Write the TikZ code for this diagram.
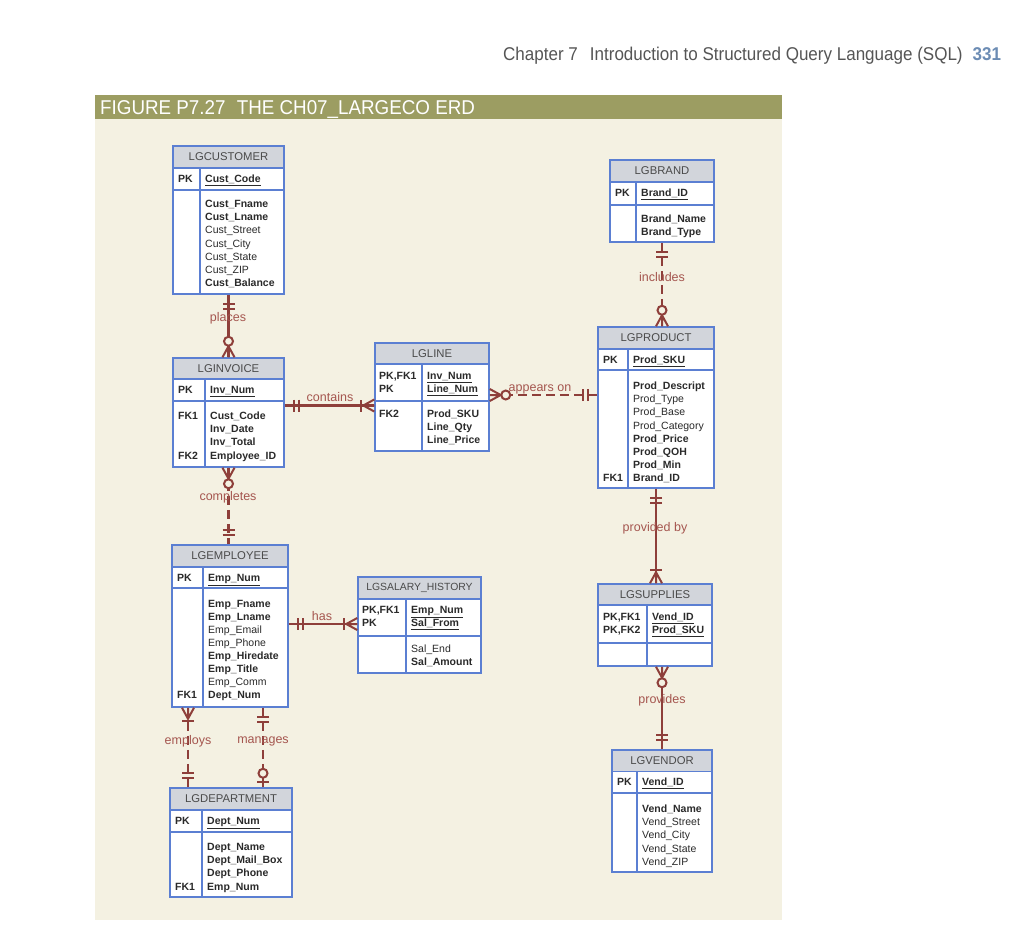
\documentclass[tikz,border=0pt]{standalone}
\usepackage{fontspec}
\setmainfont{Liberation Sans}
\newfontfamily\condfont[FakeStretch=0.92]{Liberation Sans}
\newfontfamily\titlefont[FakeStretch=0.94]{Liberation Sans}
\usetikzlibrary{calc}
\definecolor{bg}{HTML}{F4F1E2}
\definecolor{olive}{HTML}{9C9D62}
\definecolor{entblue}{HTML}{5B7FD2}
\definecolor{hdrgray}{HTML}{D2D5DB}
\definecolor{relc}{HTML}{8E3F3A}
\definecolor{rellab}{HTML}{A5564F}
\definecolor{txt}{HTML}{2A2A2A}
\definecolor{pagenum}{HTML}{6C8CB4}
\tikzset{
 entbox/.style={draw=entblue, line width=1.5pt, inner sep=0pt},
 entline/.style={draw=entblue, line width=1.3pt},
 hdrtxt/.style={font=\fontsize{11.3}{13}\selectfont, text=txt!85, inner sep=0pt},
 atxt/.style={font=\fontsize{10.5}{13}\selectfont, text=txt, inner sep=0pt, anchor=west, text height=7.4pt, text depth=0pt},
 relline/.style={draw=relc, line width=2.4pt},
 reldash/.style={relline, dash pattern=on 9pt off 5pt},
 rlab/.style={font=\fontsize{12.5}{14}\selectfont, text=rellab, inner sep=0pt},
 mk/.style={draw=relc, line width=2pt},
}
% entity: name, x1, y1, x2, y2, header bottom, pk bottom, divider x, title
\newcommand\ent[9]{%
  \fill[hdrgray] (#2,#3) rectangle (#4,#6);
  \fill[white] (#2,#6) rectangle (#4,#5);
  \draw[entline] (#2,#6) -- (#4,#6) (#2,#7) -- (#4,#7) (#8,#6) -- (#8,#5);
  \pgfmathsetmacro\ew{#4-#2}\pgfmathsetmacro\eh{#5-#3}%
  \node[entbox, minimum width=\ew pt, minimum height=\eh pt] (#1) at ({(#2+#4)/2},{(#3+#5)/2}) {};
  \node[hdrtxt] (#1-title) at ({(#2+#4)/2},{(#3+#6)/2}) {#9};
}
\newcommand\rows[4]{\foreach \rt [count=\ri] in {#4}{\node[atxt] (#1-\ri) at (#2,{#3+13.1*(\ri-1)}) {\rt};}}
% end markers: local frame, origin on entity edge, +x outward
\newcommand\zeromany[2]{\begin{scope}[shift={(#1)},rotate=#2]
  \draw[mk] (0,-6) -- (11,0) -- (0,6) (0,0) -- (11,0);
  \draw[mk, fill=bg] (16,0) circle (4.5);\end{scope}}
\newcommand\onemany[2]{\begin{scope}[shift={(#1)},rotate=#2]
  \draw[mk] (0,-6) -- (11,0) -- (0,6) (0,0) -- (11,0);
  \draw[mk] (13,-6) -- (13,6);\end{scope}}
\newcommand\oneone[2]{\begin{scope}[shift={(#1)},rotate=#2]
  \draw[mk] (9,-6) -- (9,6) (14,-6) -- (14,6);\end{scope}}
\newcommand\zeroone[2]{\begin{scope}[shift={(#1)},rotate=#2]
  \draw[mk] (5,-6) -- (5,6);
  \draw[mk, fill=bg] (14,0) circle (4.5);\end{scope}}
\begin{document}
\begin{tikzpicture}[x=1pt,y=-1pt]
\useasboundingbox[fill=white] (0,0) rectangle (1024,936);
% page header
\node[anchor=base west, inner sep=0pt, text=txt!80, font=\condfont\fontsize{18.5}{22}\selectfont] (chap) at (503,61)
  {Chapter 7\hspace{12pt}Introduction to Structured Query Language (SQL)\hspace{10pt}{\bfseries\color{pagenum}331}};
% panel
\fill[bg] (95,95) rectangle (782,920);
\fill[olive] (95,95) rectangle (782,119);
\node[anchor=base west, inner sep=0pt, text=white, font=\titlefont\fontsize{20}{24}\selectfont] (figtitle) at (100,115)
  {FIGURE P7.27\hspace{6pt} THE CH07\_LARGECO ERD};

% entities
\ent{cust}{173}{146}{284}{294}{168}{190}{200}{LGCUSTOMER}
\node[atxt] (cust-pk) at (178,179) {\textbf{PK}};
\node[atxt] (cust-key) at (205,179) {\underline{\textbf{Cust\_Code}}};
\rows{cust}{205}{204}{\textbf{Cust\_Fname},\textbf{Cust\_Lname},Cust\_Street,Cust\_City,Cust\_State,Cust\_ZIP,\textbf{Cust\_Balance}}

\ent{brand}{610}{160}{714}{242}{182}{205}{636}{LGBRAND}
\node[atxt] (brand-pk) at (615,193) {\textbf{PK}};
\node[atxt] (brand-key) at (641,193) {\underline{\textbf{Brand\_ID}}};
\rows{brand}{641}{219}{\textbf{Brand\_Name},\textbf{Brand\_Type}}

\ent{inv}{173}{358}{284}{467}{379}{401}{205}{LGINVOICE}
\node[atxt] (inv-pk) at (178,390) {\textbf{PK}};
\node[atxt] (inv-key) at (210,390) {\underline{\textbf{Inv\_Num}}};
\rows{inv}{210}{416}{\textbf{Cust\_Code},\textbf{Inv\_Date},\textbf{Inv\_Total},\textbf{Employee\_ID}}
\node[atxt] (inv-fk1) at (178,416) {\textbf{FK1}};
\node[atxt] (inv-fk2) at (178,455.3) {\textbf{FK2}};

\ent{lgline}{375}{343}{489}{451}{364}{401}{422}{LGLINE}
\node[atxt] (lgline-pk1) at (379,376) {\textbf{PK,FK1}};
\node[atxt] (lgline-pk2) at (379,389) {\textbf{PK}};
\node[atxt] (lgline-key1) at (427,376) {\underline{\textbf{Inv\_Num}}};
\node[atxt] (lgline-key2) at (427,389) {\underline{\textbf{Line\_Num}}};
\rows{lgline}{427}{414}{\textbf{Prod\_SKU},\textbf{Line\_Qty},\textbf{Line\_Price}}
\node[atxt] (lgline-fk2) at (379,414) {\textbf{FK2}};

\ent{prod}{598}{327}{714}{488}{349}{370}{628}{LGPRODUCT}
\node[atxt] (prod-pk) at (603,359.5) {\textbf{PK}};
\node[atxt] (prod-key) at (633,359.5) {\underline{\textbf{Prod\_SKU}}};
\rows{prod}{633}{386}{\textbf{Prod\_Descript},Prod\_Type,Prod\_Base,Prod\_Category,\textbf{Prod\_Price},\textbf{Prod\_QOH},\textbf{Prod\_Min},\textbf{Brand\_ID}}
\node[atxt] (prod-fk1) at (603,477.7) {\textbf{FK1}};

\ent{emp}{172}{545}{288}{707}{567}{588}{203}{LGEMPLOYEE}
\node[atxt] (emp-pk) at (177,577.5) {\textbf{PK}};
\node[atxt] (emp-key) at (208,577.5) {\underline{\textbf{Emp\_Num}}};
\rows{emp}{208}{603.5}{\textbf{Emp\_Fname},\textbf{Emp\_Lname},Emp\_Email,Emp\_Phone,\textbf{Emp\_Hiredate},\textbf{Emp\_Title},Emp\_Comm,\textbf{Dept\_Num}}
\node[atxt] (emp-fk1) at (177,695.2) {\textbf{FK1}};

\ent{sal}{358}{577}{481}{673}{599}{636}{406}{\fontsize{10.4}{13}\selectfont LGSALARY\_HISTORY}
\node[atxt] (sal-pk1) at (362,610) {\textbf{PK,FK1}};
\node[atxt] (sal-pk2) at (362,623) {\textbf{PK}};
\node[atxt] (sal-key1) at (411,610) {\underline{\textbf{Emp\_Num}}};
\node[atxt] (sal-key2) at (411,623) {\underline{\textbf{Sal\_From}}};
\rows{sal}{411}{648.5}{Sal\_End,\textbf{Sal\_Amount}}

\ent{sup}{598}{584}{712}{666}{605}{643}{647}{LGSUPPLIES}
\node[atxt] (sup-pk1) at (603,617) {\textbf{PK,FK1}};
\node[atxt] (sup-pk2) at (603,630) {\textbf{PK,FK2}};
\node[atxt] (sup-key1) at (652,617) {\underline{\textbf{Vend\_ID}}};
\node[atxt] (sup-key2) at (652,630) {\underline{\textbf{Prod\_SKU}}};

\ent{dept}{170}{788}{292}{897}{810}{832}{202}{LGDEPARTMENT}
\node[atxt] (dept-pk) at (175,821) {\textbf{PK}};
\node[atxt] (dept-key) at (207,821) {\underline{\textbf{Dept\_Num}}};
\rows{dept}{207}{847}{\textbf{Dept\_Name},\textbf{Dept\_Mail\_Box},\textbf{Dept\_Phone},\textbf{Emp\_Num}}
\node[atxt] (dept-fk1) at (175,886.3) {\textbf{FK1}};

\ent{vend}{612}{750}{712}{872}{771.5}{793}{637}{LGVENDOR}
\node[atxt] (vend-pk) at (617,782) {\textbf{PK}};
\node[atxt] (vend-key) at (642,782) {\underline{\textbf{Vend\_ID}}};
\rows{vend}{642}{809}{\textbf{Vend\_Name},Vend\_Street,Vend\_City,Vend\_State,Vend\_ZIP}

% connector end coordinates
\coordinate (ctA) at ([yshift=7pt]inv.east);
\coordinate (apA) at ([yshift=2pt]lgline.east);
\coordinate (hsA) at ([yshift=2pt]emp.east);
\coordinate (emA) at ([xshift=-42pt]emp.south);
\coordinate (mgA) at ([xshift=33pt]emp.south);

% connector lines
\draw[relline] (cust.south) -- (cust.south |- inv.north);
\draw[reldash] (inv.south) -- (inv.south |- emp.north);
\draw[reldash] (brand.south) -- (brand.south |- prod.north);
\draw[relline] (prod.south) -- (prod.south |- sup.north);
\draw[relline] (vend.north) -- (vend.north |- sup.south);
\draw[relline] (ctA) -- (ctA -| lgline.west);
\draw[reldash] (apA) -- (apA -| prod.west);
\draw[relline] (hsA) -- (hsA -| sal.west);
\draw[reldash] (emA) -- (emA |- dept.north);
\draw[reldash] (mgA) -- (mgA |- dept.north);

% labels
\node[rlab] (l-places) at (228,318) {places};
\node[rlab] (l-completes) at (228,497) {completes};
\node[rlab] (l-includes) at (662,277) {includes};
\node[rlab] (l-provby) at (655,528) {provided by};
\node[rlab] (l-provides) at (662,700) {provides};
\node[rlab] (l-contains) at (330,397) {contains};
\node[rlab] (l-appears) at (540,389) {appears on};
\node[rlab] (l-has) at (322,616) {has};
\node[rlab] (l-employs) at (188,741) {employs};
\node[rlab] (l-manages) at (263,741) {manages};

% end markers
\oneone{cust.south}{-90}
\zeromany{cust.south |- inv.north}{90}
\zeromany{inv.south}{-90}
\oneone{inv.south |- emp.north}{90}
\oneone{brand.south}{-90}
\zeromany{brand.south |- prod.north}{90}
\oneone{prod.south}{-90}
\onemany{prod.south |- sup.north}{90}
\zeromany{vend.north |- sup.south}{-90}
\oneone{vend.north}{90}
\oneone{ctA}{0}
\onemany{ctA -| lgline.west}{180}
\zeromany{apA}{0}
\oneone{apA -| prod.west}{180}
\oneone{hsA}{0}
\onemany{hsA -| sal.west}{180}
\onemany{emA}{-90}
\oneone{emA |- dept.north}{90}
\oneone{mgA}{-90}
\zeroone{mgA |- dept.north}{90}
\end{tikzpicture}
\end{document}
